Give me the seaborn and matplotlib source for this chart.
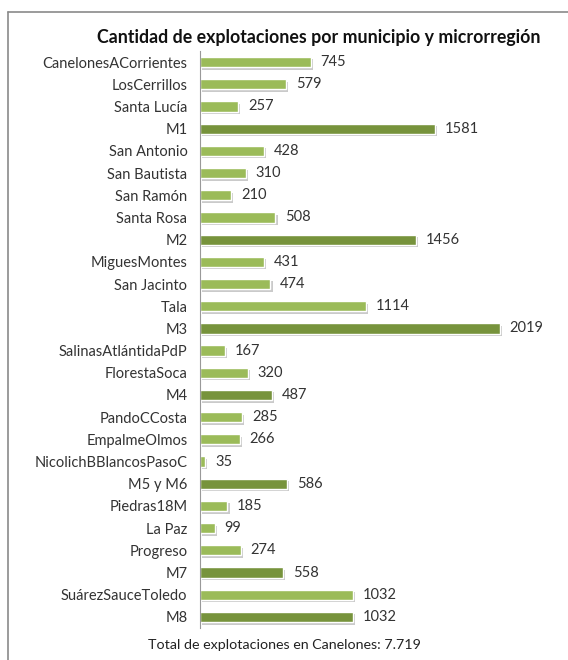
import matplotlib.pyplot as plt
import matplotlib.patheffects as pe
import numpy as np
import pandas as pd
import seaborn as sns
from matplotlib.lines import Line2D

names = ['CanelonesACorrientes', 'LosCerrillos', 'Santa Lucía', 'M1', 'San Antonio',
         'San Bautista', 'San Ramón', 'Santa Rosa', 'M2', 'MiguesMontes', 'San Jacinto',
         'Tala', 'M3', 'SalinasAtlántidaPdP', 'FlorestaSoca', 'M4', 'PandoCCosta',
         'EmpalmeOlmos', 'NicolichBBlancosPasoC', 'M5 y M6', 'Piedras18M', 'La Paz',
         'Progreso', 'M7', 'SuárezSauceToledo', 'M8']
values = [745, 579, 257, 1581, 428, 310, 210, 508, 1456, 431, 474, 1114, 2019, 167,
          320, 487, 285, 266, 35, 586, 185, 99, 274, 558, 1032, 1032]
kind = ['mun' if not n.startswith('M') or n.startswith('Migues') else 'micro' for n in names]

df = pd.DataFrame({'name': names, 'value': values, 'kind': kind})

sns.set_style('white')
plt.rcParams['font.family'] = ['Lato', 'DejaVu Sans']

fig = plt.figure(figsize=(5.68, 6.6), dpi=100)
ax = fig.add_axes([200 / 568, 1 - 628 / 660, 368 / 568, (628 - 51) / 660])

sns.barplot(data=df, y='name', x='value', hue='kind', orient='h',
            palette={'mun': '#9bbb59', 'micro': '#77933c'}, width=0.46,
            saturation=1, legend=False, ax=ax)

for p in ax.patches:
    p.set_path_effects([pe.SimplePatchShadow(offset=(1.5, -1.8), shadow_rgbFace='#a8a8a8', alpha=0.6),
                        pe.Normal()])

for c in ax.containers:
    ax.bar_label(c, padding=7, fontsize=10.5, color='#333333')

ax.set_xlim(0, 368 / 0.1486)
ax.set_ylim(25.5, -0.5)
ax.set_xlabel('')
ax.set_ylabel('')
ax.set_xticks([])
ax.tick_params(axis='y', length=0, pad=9, labelsize=10.5, labelcolor='#333333')
for s in ['top', 'right', 'bottom']:
    ax.spines[s].set_visible(False)
ax.spines['left'].set_color('#999999')
ax.spines['left'].set_linewidth(0.8)

fig.text(319 / 568, 1 - 38 / 660, 'Cantidad de explotaciones por municipio y microrregión',
         ha='center', va='center', fontsize=12.8, fontweight='bold', color='#111111')
fig.text(284 / 568, 1 - 645 / 660, 'Total de explotaciones en Canelones: 7.719',
         ha='center', va='center', fontsize=10.3, color='#222222')

# chart frame
fx, fy = 8 / 568, 1 - 12 / 660
fig.add_artist(Line2D([fx, fx], [0, fy], color='#8a8a8a', lw=1.2, transform=fig.transFigure))
fig.add_artist(Line2D([fx, 1], [fy, fy], color='#8a8a8a', lw=1.2, transform=fig.transFigure))

fig.savefig('out.png', dpi=100, facecolor='white')
